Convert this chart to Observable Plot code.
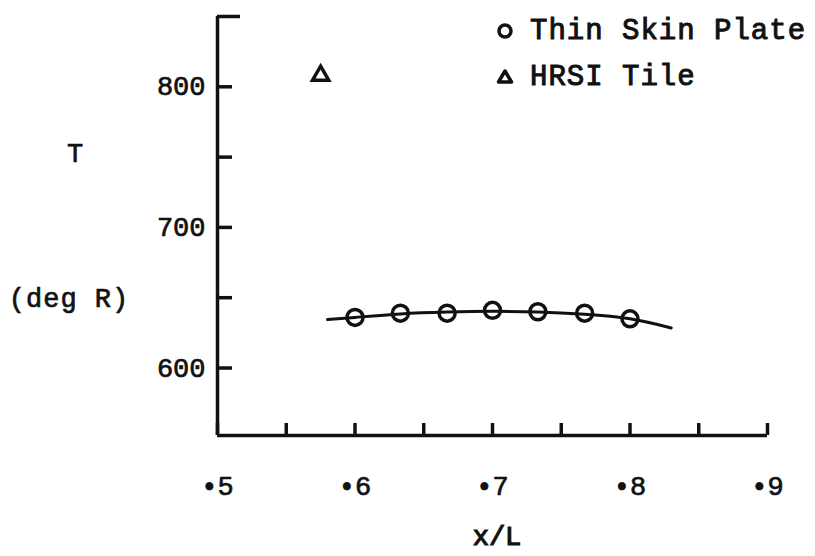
<!DOCTYPE html>
<html><head><meta charset="utf-8">
<script src="https://cdn.jsdelivr.net/npm/d3@7"></script>
<script src="https://cdn.jsdelivr.net/npm/@observablehq/plot@0.6"></script>
<style>
body{margin:0;background:#fff;}
#wrap{position:relative;width:815px;height:556px;font-family:"Liberation Mono",monospace;color:#111;}
.lbl{position:absolute;white-space:nowrap;transform:translate(-50%,-50%);line-height:1;-webkit-text-stroke:0.7px #111;}
.leg{position:absolute;white-space:nowrap;line-height:1;transform:translateY(-50%);font-size:29px;letter-spacing:1px;-webkit-text-stroke:1px #111;}
svg.sym{position:absolute;overflow:visible;}
svg text{stroke:#111;stroke-width:0.7px;}
</style></head><body><div id="wrap"></div>
<script>
// Axis domains and ticks
const xDomain = [0.5, 0.9];
const yDomain = [552, 850];
const xTicks = [0.5, 0.55, 0.6, 0.65, 0.7, 0.75, 0.8, 0.85, 0.9];
const xLabels = [0.5, 0.6, 0.7, 0.8, 0.9];
const yTicks = [600, 650, 700, 750, 800];
const yTopTick = [850];
const yLabels = [600, 700, 800];
// Thin Skin Plate data (circles)
const plateX = [0.6, 0.633, 0.667, 0.7, 0.733, 0.767, 0.8];
const plateT = [636, 639, 639, 641, 640, 639, 635];
// Faired curve through plate data
const fitX = [0.58, 0.6, 0.633, 0.667, 0.7, 0.733, 0.767, 0.8, 0.83];
const fitT = [634.5, 636, 638.5, 639.8, 640.3, 639.8, 638.2, 635, 628.5];
// HRSI Tile data (triangle)
const tileX = [0.575];
const tileT = [808];
// Text
const legendNames = ["Thin Skin Plate", "HRSI Tile"];
const yTitle = "T";
const yUnits = "(deg R)";
const xTitle = "x/L";

const plate = plateX.map((x, i) => ({x, T: plateT[i]}));
const fit = fitX.map((x, i) => ({x, T: fitT[i]}));
const tile = tileX.map((x, i) => ({x, T: tileT[i]}));
const ink = "#111";

const chart = Plot.plot({
  width: 815, height: 556,
  marginLeft: 217, marginRight: 48, marginTop: 16, marginBottom: 121,
  style: {fontFamily: "Liberation Mono, monospace", fontSize: "27px", color: ink, background: "white", overflow: "visible"},
  x: {domain: xDomain, label: null},
  y: {domain: yDomain, label: null},
  marks: [
    Plot.ruleX([xDomain[0]], {stroke: ink, strokeWidth: 3.5}),
    Plot.ruleY([yDomain[0]], {stroke: ink, strokeWidth: 3.5}),
    Plot.axisX(xTicks, {tickSize: -12, tickFormat: () => "", strokeWidth: 3.5, stroke: ink, label: null}),
    Plot.axisX(xLabels, {tickSize: 0, tickPadding: 40, tickFormat: d => "\u2022" + Math.round(d * 10), fontSize: 27, fill: ink, label: null}),
    Plot.axisY(yTicks, {tickSize: -15, tickFormat: () => "", strokeWidth: 3.5, stroke: ink, label: null}),
    Plot.axisY(yTopTick, {tickSize: -23, tickFormat: () => "", strokeWidth: 3.5, stroke: ink, label: null}),
    Plot.axisY(yLabels, {tickSize: 0, tickPadding: 12, fontSize: 27, fill: ink, label: null}),
    Plot.line(fit, {x: "x", y: "T", curve: "natural", stroke: ink, strokeWidth: 3}),
    Plot.dot(plate, {x: "x", y: "T", r: 8, stroke: ink, strokeWidth: 3.5, fill: "none"}),
    Plot.dot(tile, {x: "x", y: "T", symbol: "triangle", r: 6, stroke: ink, strokeWidth: 3.5, fill: "none"})
  ]
});
const wrap = document.getElementById("wrap");
wrap.appendChild(chart);

function addLabel(text, x, y, size, extra) {
  const d = document.createElement("div");
  d.className = "lbl";
  d.textContent = text;
  d.style.left = x + "px"; d.style.top = y + "px"; d.style.fontSize = size + "px";
  if (extra) Object.assign(d.style, extra);
  wrap.appendChild(d);
}
addLabel(yTitle, 75, 155, 27);
addLabel(yUnits, 69, 300, 27, {letterSpacing: "1px"});
addLabel(xTitle, 497, 538, 27, {WebkitTextStroke: "1.2px #111"});

function legendRow(name, sym, y) {
  const s = document.createElementNS("http://www.w3.org/2000/svg", "svg");
  s.setAttribute("class", "sym");
  s.setAttribute("width", 20); s.setAttribute("height", 20);
  s.style.left = "495px"; s.style.top = (y - 10) + "px";
  s.innerHTML = sym === "circle"
    ? `<circle cx="10" cy="10" r="6" fill="none" stroke="${ink}" stroke-width="3.5"/>`
    : `<path d="M10,4 L16.5,15 L3.5,15 Z" fill="none" stroke="${ink}" stroke-width="3.5" stroke-linejoin="round"/>`;
  wrap.appendChild(s);
  const t = document.createElement("div");
  t.className = "leg";
  t.textContent = name;
  t.style.left = "530px"; t.style.top = y + "px";
  wrap.appendChild(t);
}
legendRow(legendNames[0], "circle", 31);
legendRow(legendNames[1], "triangle", 77);
</script></body></html>
